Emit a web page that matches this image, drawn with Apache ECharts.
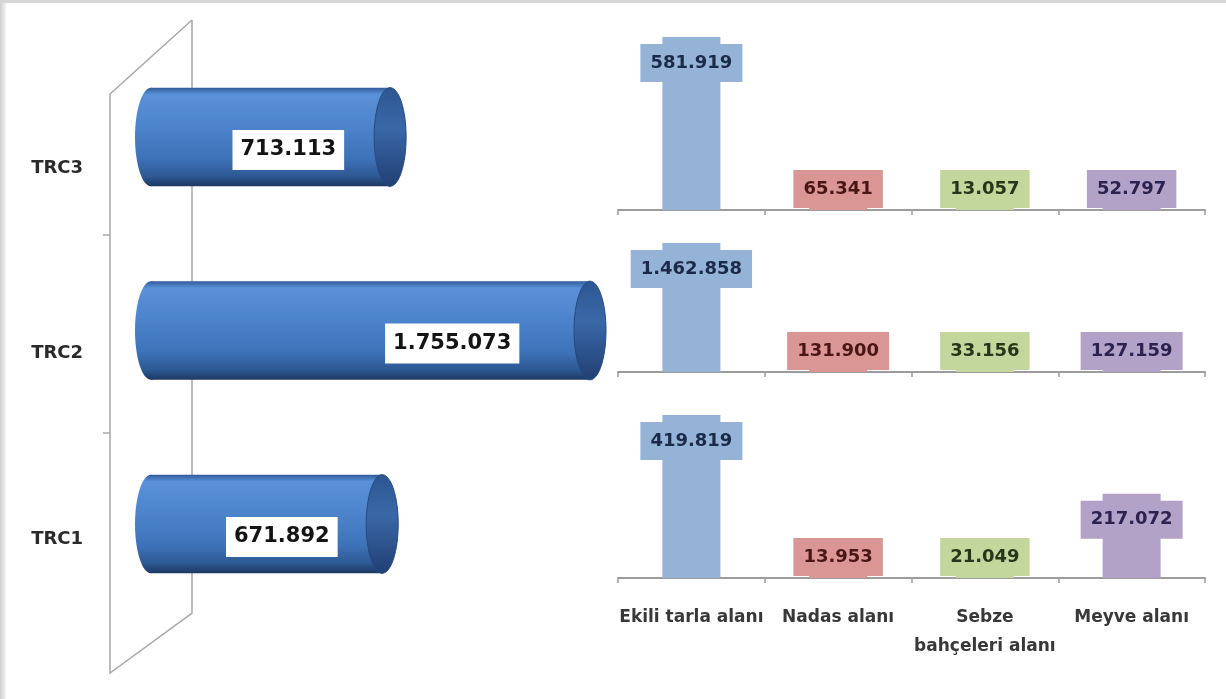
<!DOCTYPE html>
<html>
<head>
<meta charset="utf-8">
<script src="https://cdn.jsdelivr.net/npm/echarts@6/dist/echarts.min.js"></script>
<style>
html,body{margin:0;padding:0;background:#fff;}
#chart{width:1226px;height:699px;}
</style>
</head>
<body>
<div id="chart"></div>
<script>
// ---- data ----
const categories = ['Ekili tarla alanı', 'Nadas alanı', 'Sebze\nbahçeleri alanı', 'Meyve alanı'];
const regions = ['TRC1', 'TRC2', 'TRC3'];
const regionTotals = [671892, 1755073, 713113];
const trc3Values = [581919, 65341, 13057, 52797];
const trc2Values = [1462858, 131900, 33156, 127159];
const trc1Values = [419819, 13953, 21049, 217072];

// ---- styles ----
const FONT = '"DejaVu Sans", sans-serif';
const barColors = ['#95B3D7', '#D99694', '#C3D69B', '#B3A2C7'];
const textColors = ['#1b2a48', '#4a1515', '#25361a', '#2b2250'];
const X_MIN = -700000, X_MAX = 2000000;

function fmt(v) { return String(v).replace(/\B(?=(\d{3})+(?!\d))/g, '.'); }

const chart = echarts.init(document.getElementById('chart'), null, {renderer: 'canvas'});

const bodyGrad = new echarts.graphic.LinearGradient(0, 0, 0, 1, [
  {offset: 0, color: '#2f5b99'},
  {offset: 0.07, color: '#5a91d8'},
  {offset: 0.35, color: '#4e86ce'},
  {offset: 0.72, color: '#3e72b8'},
  {offset: 0.9, color: '#2d5892'},
  {offset: 1, color: '#1d3862'}
]);
const capGrad = new echarts.graphic.LinearGradient(0, 0, 0, 1, [
  {offset: 0, color: '#2c5690'},
  {offset: 0.4, color: '#3a68a7'},
  {offset: 1, color: '#213f74'}
]);

function smallSeries(vals, k) {
  const max = Math.max.apply(null, vals);
  return {
    type: 'bar', xAxisIndex: k, yAxisIndex: k, barWidth: 58, z: 3,
    data: vals.map((v, i) => {
      const tall = v / max > 0.3;
      return {
        value: v,
        itemStyle: {color: barColors[i]},
        label: {
          position: tall ? 'insideTop' : 'insideBottom',
          distance: tall ? 7 : 2,
          color: textColors[i],
          backgroundColor: barColors[i]
        }
      };
    }),
    label: {
      show: true, formatter: p => fmt(p.value),
      fontFamily: FONT, fontWeight: 'bold', fontSize: 18, lineHeight: 22,
      padding: [8, 10]
    }
  };
}

function catAxis(k, showLabel) {
  return {
    gridIndex: k, type: 'category', data: categories,
    axisLine: {show: true, lineStyle: {color: '#9c9c9c', width: 2}},
    axisTick: {show: true, length: 5, lineStyle: {color: '#9c9c9c', width: 1.5}},
    axisLabel: {
      show: showLabel, interval: 0, margin: 25,
      fontFamily: FONT, fontWeight: 'bold', fontSize: 17, lineHeight: 29, color: '#383838'
    },
    splitLine: {show: false}
  };
}

const option = {
  backgroundColor: '#ffffff',
  animation: false,
  graphic: {
    elements: [
      {type: 'rect', shape: {x: 0, y: 0, width: 6, height: 699}, z: 0,
       style: {fill: new echarts.graphic.LinearGradient(0, 0, 1, 0, [{offset: 0, color: '#cfcfcf'}, {offset: 1, color: '#f4f4f4'}])}},
      {type: 'rect', shape: {x: 0, y: 0, width: 1226, height: 3}, z: 0, style: {fill: '#d6d6d6'}},
      {type: 'polyline', z: 0,
       shape: {points: [[192, 20], [110, 94], [110, 673], [192, 613], [192, 20]]},
       style: {stroke: '#a8a8a8', lineWidth: 1.5, fill: null}},
      {type: 'line', z: 0, shape: {x1: 103, y1: 235, x2: 110, y2: 235}, style: {stroke: '#a8a8a8', lineWidth: 1.5}},
      {type: 'line', z: 0, shape: {x1: 103, y1: 433, x2: 110, y2: 433}, style: {stroke: '#a8a8a8', lineWidth: 1.5}}
    ]
  },
  grid: [
    {left: 135, right: 573, top: 40.25, bottom: 78.25},
    {left: 88, width: 10, top: 75.25, bottom: 67.25},
    {left: 618, right: 21, top: 37, bottom: 489},
    {left: 618, right: 21, top: 243, bottom: 327},
    {left: 618, right: 21, top: 415, bottom: 121}
  ],
  xAxis: [
    {gridIndex: 0, type: 'value', min: X_MIN, max: X_MAX, show: false},
    {gridIndex: 1, type: 'value', show: false},
    catAxis(2, false),
    catAxis(3, false),
    catAxis(4, true)
  ],
  yAxis: [
    {gridIndex: 0, type: 'category', data: regions, show: false},
    {gridIndex: 1, type: 'category', data: regions,
     axisLine: {show: false}, axisTick: {show: false}, splitLine: {show: false},
     axisLabel: {margin: 5, fontFamily: FONT, fontWeight: 'bold', fontSize: 18, color: '#2a2a2a'}},
    {gridIndex: 2, type: 'value', min: 0, max: 'dataMax', show: false},
    {gridIndex: 3, type: 'value', min: 0, max: 'dataMax', show: false},
    {gridIndex: 4, type: 'value', min: 0, max: 'dataMax', show: false}
  ],
  series: [
    {
      type: 'custom', xAxisIndex: 0, yAxisIndex: 0, z: 2,
      data: regionTotals.map((v, i) => [v, i]),
      encode: {x: 0, y: 1},
      renderItem: function (params, api) {
        const v = api.value(0), c = api.value(1);
        const end = api.coord([v, c]);
        const start = api.coord([X_MIN, c]);
        const h = api.size([0, 1])[1] * 0.51;
        const ry = h / 2, rx = 16, cy = end[1];
        const x0 = start[0], x1 = end[0];
        return {
          type: 'group',
          children: [
            {type: 'ellipse', shape: {cx: x0 + rx, cy: cy, rx: rx, ry: ry}, style: {fill: bodyGrad}},
            {type: 'rect', shape: {x: x0 + rx, y: cy - ry, width: x1 - x0 - 2 * rx, height: h}, style: {fill: bodyGrad}},
            {type: 'ellipse', shape: {cx: x1 - rx, cy: cy, rx: rx, ry: ry}, style: {fill: capGrad, stroke: '#244a80', lineWidth: 1}},
            {type: 'text', x: x0 + 0.82 * (x1 - x0) - 69, y: cy + 13, z2: 10,
             style: {text: fmt(v), font: 'bold 21px ' + FONT, fill: '#141414',
                     backgroundColor: '#ffffff', padding: [10, 8, 9, 8], align: 'center', verticalAlign: 'middle'}}
          ]
        };
      }
    },
    smallSeries(trc3Values, 2),
    smallSeries(trc2Values, 3),
    smallSeries(trc1Values, 4)
  ]
};
chart.setOption(option);
</script>
</body>
</html>
